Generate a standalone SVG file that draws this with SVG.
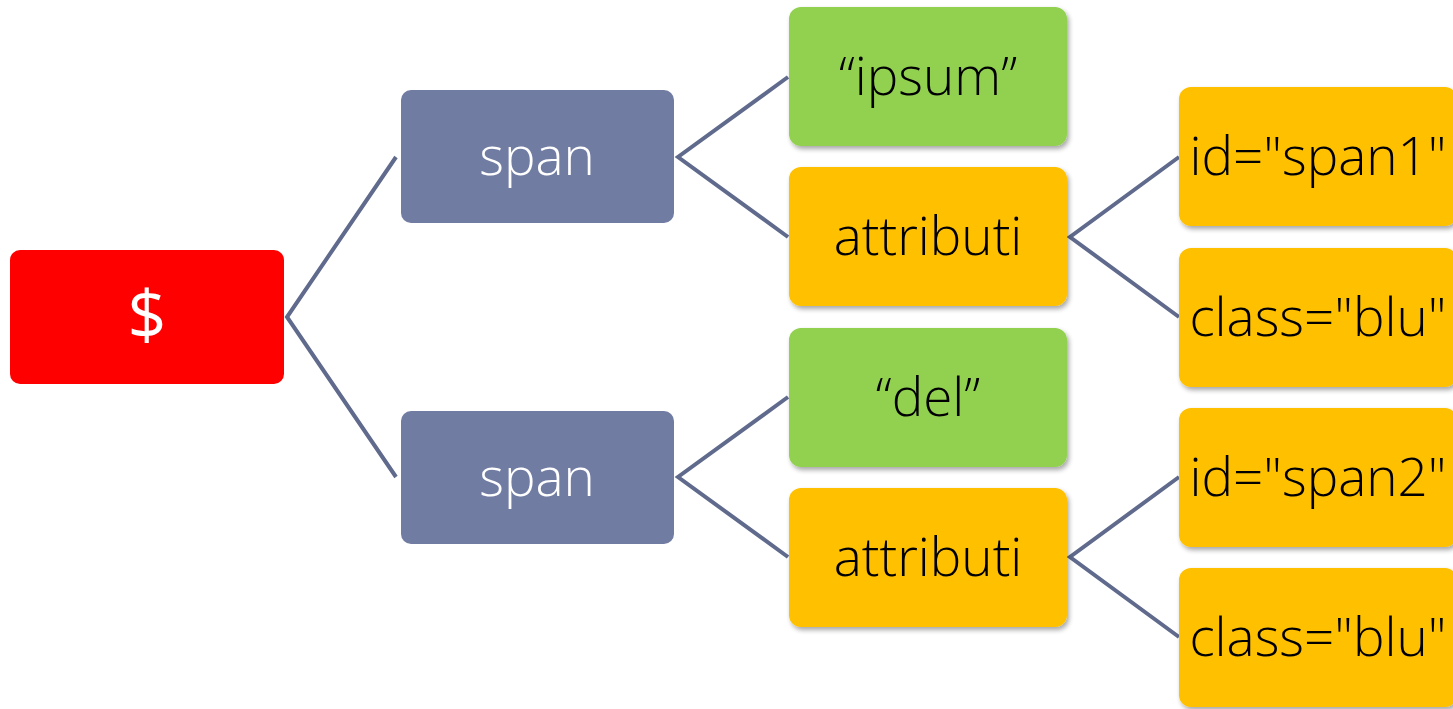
<svg xmlns="http://www.w3.org/2000/svg" width="1453" height="709" viewBox="0 0 1453 709">
  <defs>
    <filter id="shadow" x="-10%" y="-10%" width="125%" height="130%">
      <feGaussianBlur in="SourceAlpha" stdDeviation="2.5"/>
      <feOffset dx="2" dy="3" result="b"/>
      <feComponentTransfer><feFuncA type="linear" slope="0.35"/></feComponentTransfer>
      <feMerge><feMergeNode/><feMergeNode in="SourceGraphic"/></feMerge>
    </filter>
  </defs>
  <style>
    .root { fill: #ff0000; }
    .span { fill: #717ca2; }
    .text { fill: #92d050; }
    .attr { fill: #ffc000; }
    .leaf { filter: url(#shadow); }
    .lbl { font-family: "Open Sans", "Liberation Sans", sans-serif; font-weight: 300; font-size: 53px; text-anchor: middle; }
    .big { font-size: 68px; font-weight: 400; }
    .dark { fill: #000000; }
    .light { fill: #ffffff; }
    .edge { stroke: #5f6a8c; stroke-width: 4; fill: none; }
  </style>
  <rect width="1453" height="709" fill="#ffffff"/>

  <!-- connectors -->
  <g id="connectors">
    <polyline class="edge" points="396,157 287,317 396,477"/>
    <polyline class="edge" points="788,77 678,157 788,237"/>
    <polyline class="edge" points="788,397 678,477 788,557"/>
    <polyline class="edge" points="1179,157 1070,237 1179,317"/>
    <polyline class="edge" points="1179,477 1070,557 1179,637"/>
  </g>

  <g id="root">
    <rect class="root" x="10" y="250" width="274" height="134" rx="10"/>
    <text class="lbl big light" x="147" y="339">$</text>
  </g>

  <g id="span1">
    <rect class="span" x="401" y="90" width="273" height="133" rx="10"/>
    <text class="lbl light" x="537" y="175">span</text>
  </g>
  <g id="span2">
    <rect class="span" x="401" y="411" width="273" height="133" rx="10"/>
    <text class="lbl light" x="537" y="496">span</text>
  </g>

  <g id="text-ipsum" class="leaf">
    <rect class="text" x="789" y="7" width="278" height="139" rx="12"/>
    <text class="lbl dark" x="928" y="95">“ipsum”</text>
  </g>
  <g id="attributi1" class="leaf">
    <rect class="attr" x="789" y="167" width="278" height="139" rx="12"/>
    <text class="lbl dark" x="928" y="255">attributi</text>
  </g>
  <g id="text-del" class="leaf">
    <rect class="text" x="789" y="328" width="278" height="139" rx="12"/>
    <text class="lbl dark" x="928" y="416">“del”</text>
  </g>
  <g id="attributi2" class="leaf">
    <rect class="attr" x="789" y="488" width="278" height="139" rx="12"/>
    <text class="lbl dark" x="928" y="576">attributi</text>
  </g>

  <g id="id-span1" class="leaf">
    <rect class="attr" x="1179" y="87" width="278" height="139" rx="12"/>
    <text class="lbl dark" x="1318" y="175">id="span1"</text>
  </g>
  <g id="class-blu1" class="leaf">
    <rect class="attr" x="1179" y="248" width="278" height="139" rx="12"/>
    <text class="lbl dark" x="1318" y="336">class="blu"</text>
  </g>
  <g id="id-span2" class="leaf">
    <rect class="attr" x="1179" y="408" width="278" height="139" rx="12"/>
    <text class="lbl dark" x="1318" y="496">id="span2"</text>
  </g>
  <g id="class-blu2" class="leaf">
    <rect class="attr" x="1179" y="568" width="278" height="139" rx="12"/>
    <text class="lbl dark" x="1318" y="656">class="blu"</text>
  </g>
</svg>
